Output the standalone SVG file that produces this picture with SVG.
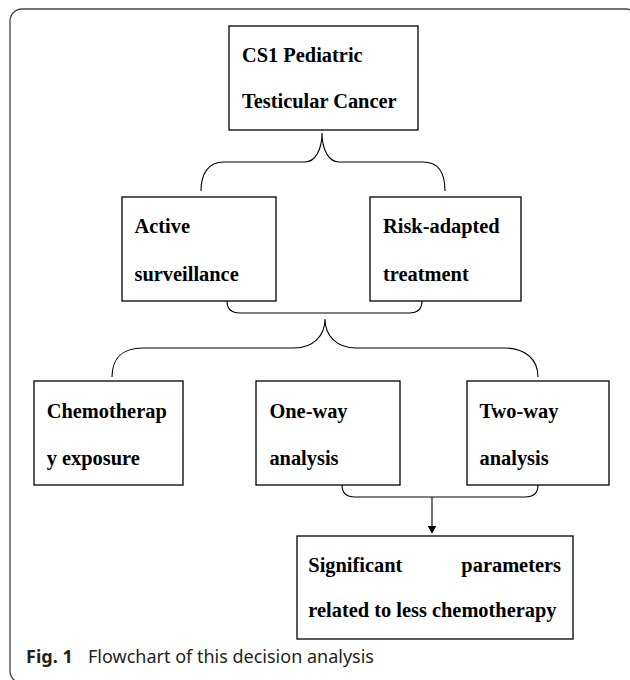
<svg xmlns="http://www.w3.org/2000/svg" width="630" height="680" viewBox="0 0 630 680">
<defs>
<style>
.box{fill:#fff;stroke:#000;stroke-width:1.3}
.t{font-family:"Liberation Serif","Times New Roman",serif;font-weight:bold;font-size:20.4px;fill:#000}
.br{fill:none;stroke:#000;stroke-width:1.1}
.cap{font-family:"Noto Sans","Open Sans",sans-serif;font-size:18px;fill:#231f20}
</style>
<marker id="ah" markerWidth="8" markerHeight="9" refX="7.5" refY="4.5" orient="auto" markerUnits="userSpaceOnUse">
<path d="M0,0 L8,4.5 L0,9 Z" fill="#000"/>
</marker>
</defs>
<rect width="630" height="680" fill="#fff"/>
<rect x="10" y="9" width="628" height="674" rx="12" fill="none" stroke="#444" stroke-width="1.3"/>
<g id="connectors">
<path class="br" d="M201,191 C201,174 208,162 224,162 L305,162 C315,162 322,150 322,133 C322,150 329,162 339,162 L423,162 C439,162 445,174 445,191"/>
<path class="br" d="M227,301 C227,309 231,313 240,313 L409,313 C418,313 422,309 422,301"/>
<path class="br" d="M112,377 C112,359 122,348 143,348 L294,348 C313,348 325,336 325,319 C325,336 337,348 356,348 L504,348 C525,348 538,359 538,377"/>
<path class="br" d="M342,485 C342,493 346,497 355,497 L525,497 C534,497 538,493 538,485"/>
<path class="br" d="M432,497 L432,533" marker-end="url(#ah)"/>
</g>
<g id="n-cs1">
<rect class="box" x="229" y="26" width="189" height="104"/>
<text class="t" x="242" y="61.5">CS1 Pediatric</text>
<text class="t" x="242" y="108.3">Testicular Cancer</text>
</g>
<g id="n-active">
<rect class="box" x="122" y="197" width="154" height="104"/>
<text class="t" x="134.5" y="233.3">Active</text>
<text class="t" x="134.5" y="280.5">surveillance</text>
</g>
<g id="n-risk">
<rect class="box" x="370" y="197" width="151" height="104"/>
<text class="t" x="383" y="233.3">Risk-adapted</text>
<text class="t" x="383" y="280.5">treatment</text>
</g>
<g id="n-chemo">
<rect class="box" x="34" y="381" width="149" height="104"/>
<text class="t" x="46.7" y="418.3">Chemotherap</text>
<text class="t" x="46.7" y="464.5">y exposure</text>
</g>
<g id="n-oneway">
<rect class="box" x="256" y="381" width="144" height="104"/>
<text class="t" x="269.4" y="418.3">One-way</text>
<text class="t" x="269.4" y="464.5">analysis</text>
</g>
<g id="n-twoway">
<rect class="box" x="467" y="381" width="142" height="104"/>
<text class="t" x="479.5" y="418.3">Two-way</text>
<text class="t" x="479.5" y="464.5">analysis</text>
</g>
<g id="n-sig">
<rect class="box" x="297" y="536" width="276" height="103"/>
<text class="t" x="308.3" y="572">Significant</text>
<text class="t" x="561" y="572" text-anchor="end">parameters</text>
<text class="t" x="308.3" y="617">related to less chemotherapy</text>
</g>
<g id="caption">
<text class="cap" x="26" y="663"><tspan font-weight="bold">Fig. 1</tspan><tspan x="88">Flowchart of this decision analysis</tspan></text>
</g>
</svg>
